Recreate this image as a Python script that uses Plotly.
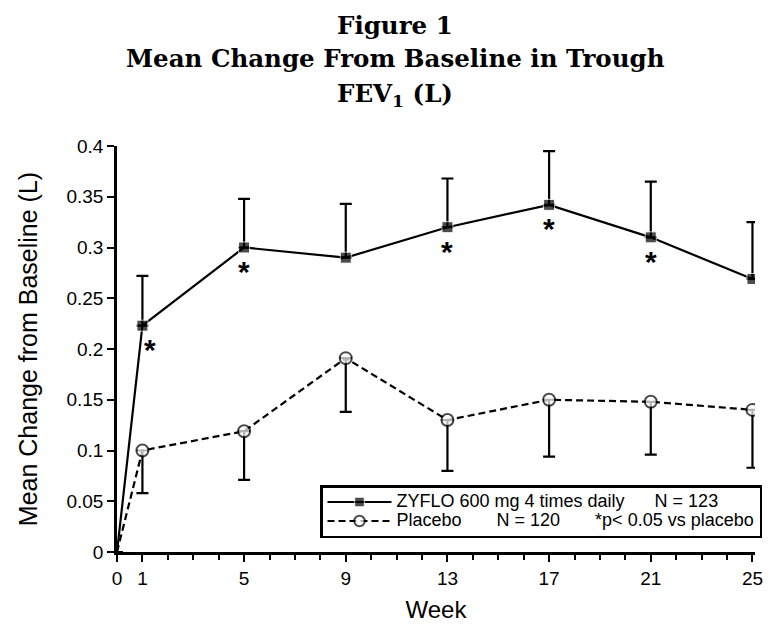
import plotly.graph_objects as go

weeks = [0, 1, 5, 9, 13, 17, 21, 25]
zyflo_mean = [0.0, 0.223, 0.300, 0.290, 0.320, 0.342, 0.310, 0.269]
zyflo_upper = [0.0, 0.272, 0.348, 0.343, 0.368, 0.395, 0.365, 0.325]
placebo_mean = [0.0, 0.100, 0.119, 0.191, 0.130, 0.150, 0.148, 0.140]
placebo_lower = [0.0, 0.058, 0.071, 0.138, 0.080, 0.094, 0.096, 0.083]
significant_weeks = [1, 5, 13, 17, 21]

title_lines = ["Figure 1", "Mean Change From Baseline in Trough", "FEV<sub>1</sub> (L)"]
x_ticks = [0, 1, 5, 9, 13, 17, 21, 25]
y_ticks = [0, 0.05, 0.1, 0.15, 0.2, 0.25, 0.3, 0.35, 0.4]
y_tick_labels = ["0", "0.05", "0.1", "0.15", "0.2", "0.25", "0.3", "0.35", "0.4"]

W, H = 774, 627
ML, MR, MT, MB = 117, 19, 146, 75
PW, PH = W - ML - MR, H - MT - MB


def px_x(p):
    return (p - ML) / PW


def px_y(p):
    return (H - MB - p) / PH


sp = "&nbsp;"


def legend_label(*parts, gap=6):
    text = (sp * gap).join(p.replace(" ", sp) for p in parts)
    return '<span style="font-size:18px">' + text + "</span>"


zyflo_err = [u - m for u, m in zip(zyflo_upper, zyflo_mean)]
placebo_err = [m - l for m, l in zip(placebo_mean, placebo_lower)]
square_sizes = [0 if w == 0 else 11 for w in weeks]
circle_sizes = [0 if w == 0 else 12 for w in weeks]

fig = go.Figure()
fig.add_trace(go.Scatter(
    x=weeks, y=zyflo_mean, mode="lines+markers",
    name=legend_label("ZYFLO 600 mg 4 times daily", "N = 123", gap=6),
    line=dict(color="black", width=2.2),
    marker=dict(symbol="square", size=square_sizes, color="black"),
    error_y=dict(type="data", symmetric=False, array=zyflo_err,
                 arrayminus=[0] * len(weeks), color="black", thickness=2.2, width=6),
))
fig.add_trace(go.Scatter(
    x=weeks, y=placebo_mean, mode="lines+markers",
    name=legend_label("Placebo", "N = 120", "*p< 0.05 vs placebo", gap=7),
    line=dict(color="black", width=2.2, dash="7px,4px"),
    marker=dict(symbol="circle", size=circle_sizes, color="white",
                line=dict(color="black", width=2)),
    error_y=dict(type="data", symmetric=False, array=[0] * len(weeks),
                 arrayminus=placebo_err, color="black", thickness=2.2, width=6),
))

for w in significant_weeks:
    i = weeks.index(w)
    fig.add_annotation(x=w, y=zyflo_mean[i], text="<b>*</b>", showarrow=False,
                       yshift=-24, xshift=8 if w == 1 else 0,
                       font=dict(family="Liberation Sans", size=30, color="black"))

title_centers = [25, 58, 95]
for line, cy in zip(title_lines, title_centers):
    fig.add_annotation(xref="paper", yref="paper", x=px_x(395), y=px_y(cy),
                       xanchor="center", yanchor="middle", showarrow=False,
                       text="<b>" + line + "</b>",
                       font=dict(family="DejaVu Serif", size=24.5, color="black"))

fig.update_layout(
    width=W, height=H,
    paper_bgcolor="white", plot_bgcolor="white",
    margin=dict(l=ML, r=MR, t=MT, b=MB, autoexpand=False),
    font=dict(family="Liberation Sans", color="black"),
    legend=dict(
        x=px_x(320), y=px_y(485), xanchor="left", yanchor="top",
        bgcolor="white", bordercolor="black", borderwidth=2.5,
        font=dict(family="Liberation Sans", size=12, color="black"),
        tracegroupgap=0, itemwidth=64,
    ),
    showlegend=True,
)
fig.update_xaxes(
    range=[0, 25.1], tickmode="array", tickvals=x_ticks, automargin=False,
    ticks="outside", ticklen=7, tickwidth=2, tickcolor="black",
    showline=True, linecolor="black", linewidth=2.5, showgrid=False, zeroline=False,
    tickfont=dict(size=19), title=dict(text="Week", font=dict(size=24), standoff=14),
    minor=dict(dtick=1, ticks="outside", ticklen=5, tickwidth=2, tickcolor="black", showgrid=False),
)
fig.update_yaxes(
    range=[0, 0.4], tickmode="array", tickvals=y_ticks, ticktext=y_tick_labels, automargin=False,
    ticks="outside", ticklen=7, tickwidth=2, tickcolor="black",
    showline=True, linecolor="black", linewidth=2.5, showgrid=False, zeroline=False,
    tickfont=dict(size=19), title=dict(text="Mean Change from Baseline (L)", font=dict(size=25), standoff=22),
)

fig.write_html("out.html", config={"displayModeBar": False},
               post_script="document.body.style.margin='0';document.body.style.overflow='hidden';")
